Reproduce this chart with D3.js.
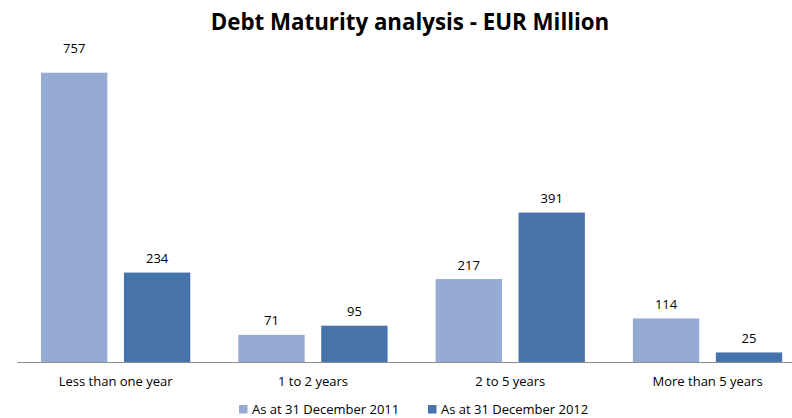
<!DOCTYPE html>
<html>
<head>
<meta charset="utf-8">
<script src="https://cdn.jsdelivr.net/npm/d3@7"></script>
<style>
  body { margin: 0; background: #fff; }
  text { font-family: "Open Sans", "Liberation Sans", sans-serif; }
</style>
</head>
<body>
<svg id="chart" width="792" height="418"></svg>
<script>
// chart data
const categories = ["Less than one year", "1 to 2 years", "2 to 5 years", "More than 5 years"];
const seriesNames = ["As at 31 December 2011", "As at 31 December 2012"];
const values2011 = [757, 71, 217, 114];
const values2012 = [234, 95, 391, 25];
const colors = ["#95abd3", "#4674aa"];

const svg = d3.select("#chart");
// the plot runs past the right edge of the picture (cropped like the original)
const plotLeft = 17, bandStep = 197.3, baseline = 362, plotTop = 72.7;

const x0 = d3.scaleBand().domain(categories).range([plotLeft, plotLeft + bandStep * categories.length]);
const x1 = d3.scaleBand().domain(seriesNames).range([24, x0.bandwidth() - 24]).paddingInner(0.2);
const y = d3.scaleLinear().domain([0, 757]).range([baseline, plotTop]);
const maxVal = d3.max(values2011.concat(values2012));

const rows = categories.map((c, i) => ({ cat: c, vals: [values2011[i], values2012[i]] }));

// title
svg.append("text")
    .attr("x", 410).attr("y", 30)
    .attr("text-anchor", "middle")
    .style("font-size", "22.3px").style("font-weight", "bold")
    .text("Debt Maturity analysis - EUR Million");

const groups = svg.selectAll("g.cat")
    .data(rows)
    .enter().append("g")
        .attr("class", "cat")
        .attr("transform", d => `translate(${x0(d.cat)},0)`);

groups.selectAll("rect")
    .data(d => d.vals.map((v, j) => ({ name: seriesNames[j], v: v, j: j })))
    .enter().append("rect")
        .attr("x", d => x1(d.name))
        .attr("y", d => y(d.v))
        .attr("width", x1.bandwidth())
        .attr("height", d => baseline - y(d.v))
        .style("fill", d => colors[d.j]);

// value labels; the tallest one sits a bit higher, as in the original
groups.selectAll("text.val")
    .data(d => d.vals.map((v, j) => ({ name: seriesNames[j], v: v })))
    .enter().append("text")
        .attr("class", "val")
        .attr("x", d => x1(d.name) + x1.bandwidth() / 2)
        .attr("y", d => y(d.v) - (d.v === maxVal ? 20 : 9.5))
        .attr("text-anchor", "middle")
        .style("font-size", "13px")
        .text(d => d.v);

// x axis
const xAxis = svg.append("g")
    .attr("transform", `translate(0,${baseline})`)
    .call(d3.axisBottom(x0).tickSize(0).tickPadding(15));
xAxis.select(".domain").attr("stroke", "#8c8c8c");
xAxis.selectAll("text").style("font-size", "13px").style("font-family", "'Open Sans', sans-serif").attr("fill", "#000");

// legend
const legendX = [239, 428];
const legend = svg.selectAll("g.legend")
    .data(seriesNames)
    .enter().append("g")
        .attr("class", "legend")
        .attr("transform", (d, i) => `translate(${legendX[i]},405)`);
legend.append("rect").attr("width", 8.5).attr("height", 8.5).style("fill", (d, i) => colors[i]);
legend.append("text")
    .attr("x", 13).attr("y", 9.3)
    .style("font-size", "13px")
    .text(d => d);
</script>
</body>
</html>
